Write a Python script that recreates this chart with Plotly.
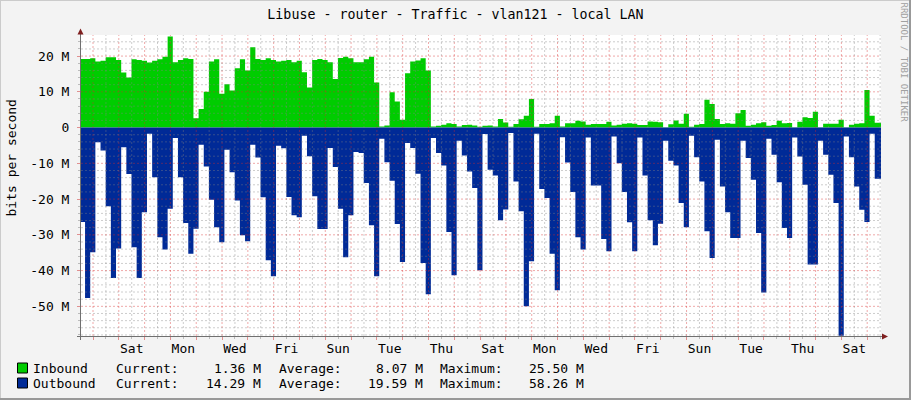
import plotly.graph_objects as go
from datetime import datetime, timedelta

# ---------------- data ----------------
TITLE = "Libuse - router - Traffic - vlan121 - local LAN"
Y_LABEL = "bits per second"
WATERMARK = "RRDTOOL / TOBI OETIKER"

GRAPH_START = datetime(2024, 2, 1, 12, 50)      # Thursday afternoon
GRAPH_DAYS = 31
STEP_ORIGIN = datetime(2024, 2, 1, 11, 48)      # start of first consolidated step
STEP_HOURS = 4.8

# traffic in Mbit/s, one value per 4.8 h step
inbound_mbps = [
    19.2, 19.2, 19.4, 18.5, 18.7, 19.7, 19.7, 18.9, 15.4, 14.0,
    19.1, 18.9, 18.7, 18.2, 18.7, 19.1, 19.8, 25.5, 18.3, 18.9,
    19.4, 19.2, 2.6, 5.2, 10.0, 18.5, 19.1, 9.5, 12.1, 10.4,
    16.6, 19.1, 16.0, 22.5, 19.2, 18.9, 19.4, 18.9, 18.5, 18.7,
    18.9, 18.3, 18.7, 15.5, 11.2, 18.9, 19.2, 18.9, 18.3, 13.6,
    19.5, 19.8, 19.4, 18.3, 18.3, 19.1, 19.8, 12.6, 0.3, 0.6,
    9.9, 7.3, 2.2, 15.2, 18.5, 18.8, 19.4, 16.0, 0.3, 0.5,
    0.8, 1.2, 1.0, 0.3, 0.7, 0.8, 0.6, 0.2, 0.5, 0.6,
    0.3, 2.4, 1.4, 0.2, 1.0, 2.3, 3.3, 8.0, 0.2, 1.0,
    1.0, 1.2, 3.3, 0.3, 1.2, 1.2, 1.9, 1.7, 0.8, 1.0,
    1.0, 1.0, 1.6, 0.6, 0.8, 1.1, 1.2, 1.1, 0.7, 0.7,
    1.7, 1.6, 1.5, 0.1, 0.9, 2.0, 1.1, 3.9, 0.2, 0.8,
    1.0, 7.8, 6.6, 2.4, 1.0, 1.2, 1.1, 4.0, 4.9, 0.5,
    0.8, 1.2, 1.5, 0.5, 0.7, 1.9, 1.2, 1.3, 0.1, 1.6,
    2.9, 2.7, 4.4, 0.1, 1.1, 1.1, 1.1, 2.2, 0.1, 0.8,
    1.1, 1.2, 10.5, 3.3, 1.36,
]
outbound_mbps = [
    26.4, 47.7, 34.9, 4.1, 6.4, 22.0, 42.1, 33.8, 5.5, 13.0,
    33.5, 42.1, 23.7, 1.7, 13.9, 30.7, 34.1, 22.7, 2.9, 13.9,
    26.7, 35.3, 28.3, 4.8, 10.9, 20.2, 27.9, 32.1, 6.2, 12.5,
    20.4, 30.1, 31.8, 4.8, 8.4, 19.5, 37.1, 41.6, 5.1, 5.8,
    19.4, 24.5, 25.1, 2.3, 8.0, 19.2, 28.4, 28.4, 5.7, 11.0,
    22.7, 36.3, 24.5, 6.8, 7.1, 15.5, 27.3, 41.6, 3.1, 9.7,
    14.9, 27.0, 37.6, 4.3, 5.7, 12.9, 37.9, 46.6, 2.9, 7.1,
    10.6, 29.2, 41.3, 3.7, 7.8, 12.3, 16.9, 39.9, 1.8, 11.8,
    13.4, 25.9, 22.9, 1.5, 15.1, 23.4, 50.0, 37.4, 1.7, 17.2,
    19.7, 35.3, 45.5, 2.7, 9.8, 18.0, 30.7, 34.1, 2.8, 16.2,
    16.2, 31.2, 34.6, 2.5, 10.0, 18.0, 26.5, 34.6, 2.8, 13.4,
    25.9, 32.9, 26.9, 3.7, 9.3, 10.6, 21.1, 27.9, 2.3, 8.3,
    15.1, 29.0, 36.5, 3.4, 16.5, 23.7, 30.9, 30.9, 3.7, 8.5,
    14.6, 29.5, 46.1, 3.1, 7.6, 15.3, 28.1, 30.9, 2.8, 8.1,
    16.0, 38.3, 38.3, 3.7, 7.6, 13.2, 21.1, 58.26, 2.5, 8.3,
    16.5, 23.0, 26.4, 1.7, 14.29,
]

day_labels = ["Sat", "Mon", "Wed", "Fri", "Sun", "Tue", "Thu", "Sat",
              "Mon", "Wed", "Fri", "Sun", "Tue", "Thu", "Sat"]
day_label_dates = ["2024-02-03", "2024-02-05", "2024-02-07", "2024-02-09",
                   "2024-02-11", "2024-02-13", "2024-02-15", "2024-02-17",
                   "2024-02-19", "2024-02-21", "2024-02-23", "2024-02-25",
                   "2024-02-27", "2024-02-29", "2024-03-02"]

y_tick_values = [20, 10, 0, -10, -20, -30, -40, -50]
y_tick_text = ["20 M", "10 M", "0", "-10 M", "-20 M", "-30 M", "-40 M", "-50 M"]
Y_MIN, Y_MAX = -58.3, 25.9

legend_names = ["Inbound", "Outbound"]
legend_current = ["1.36 M", "14.29 M"]
legend_average = ["8.07 M", "19.59 M"]
legend_maximum = ["25.50 M", "58.26 M"]

# ---------------- styles ----------------
GREEN = "#00CC00"
BLUE = "#002A97"
BACK = "#F3F3F3"
FONT = "DejaVu Sans Mono"
GRID_MINOR = "rgba(130,130,130,0.40)"
GRID_MAJOR = "rgba(215,40,40,0.40)"
AXIS_COLOR = "#707070"
ARROW_COLOR = "#7F1F1F"
W, H = 911, 400
PL, PR, PT, PB = 81, 881, 35, 336


def px_x(px):
    return (px - PL) / (PR - PL)


def px_y(py):
    return (PB - py) / (PB - PT)


GRAPH_END = GRAPH_START + timedelta(days=GRAPH_DAYS)
n = len(inbound_mbps)
times = [STEP_ORIGIN + timedelta(hours=STEP_HOURS * k) for k in range(n)] + [GRAPH_END]
y_in = inbound_mbps + [inbound_mbps[-1]]
y_out = [-v for v in outbound_mbps] + [-outbound_mbps[-1]]

fig = go.Figure()
fig.add_trace(go.Scatter(x=times, y=y_in, mode="lines", line=dict(width=0, shape="hv", color=GREEN),
                         fill="tozeroy", fillcolor=GREEN, name=legend_names[0], showlegend=False,
                         hoverinfo="skip"))
fig.add_trace(go.Scatter(x=times, y=y_out, mode="lines", line=dict(width=0, shape="hv", color=BLUE),
                         fill="tozeroy", fillcolor=BLUE, name=legend_names[1], showlegend=False,
                         hoverinfo="skip"))
# carrier trace for the label axis
fig.add_trace(go.Scatter(x=[GRAPH_START, GRAPH_END], y=[0, 0], xaxis="x2", mode="lines",
                         line=dict(width=0), opacity=0, showlegend=False, hoverinfo="skip"))

shapes = []
# grid drawn above data (as rrdtool does)
d = datetime(GRAPH_START.year, GRAPH_START.month, GRAPH_START.day)
while d <= GRAPH_END:
    for hrs, col in ((0, GRID_MAJOR), (12, GRID_MINOR)):
        t = d + timedelta(hours=hrs)
        if GRAPH_START < t < GRAPH_END:
            shapes.append(dict(type="line", xref="x", yref="paper", x0=t, x1=t, y0=0, y1=1,
                               layer="above", line=dict(color=col, width=1, dash="2px,2px")))
    d += timedelta(days=1)
for v in range(-58, 26, 2):
    if v == 0:
        continue
    col = GRID_MAJOR if v % 10 == 0 else GRID_MINOR
    shapes.append(dict(type="line", xref="paper", yref="y", x0=0, x1=1, y0=v, y1=v,
                       layer="above", line=dict(color=col, width=1, dash="2px,2px")))

# axis extensions and arrows
shapes.append(dict(type="line", xref="paper", yref="paper", x0=px_x(77), x1=px_x(883),
                   y0=px_y(336.5), y1=px_y(336.5), line=dict(color=AXIS_COLOR, width=1)))
shapes.append(dict(type="line", xref="paper", yref="paper", x0=px_x(80.5), x1=px_x(80.5),
                   y0=px_y(340), y1=px_y(33), line=dict(color=AXIS_COLOR, width=1)))
shapes.append(dict(type="path", xref="paper", yref="paper",
                   path=f"M {px_x(77.5)} {px_y(34.5)} L {px_x(83.5)} {px_y(34.5)} L {px_x(80.5)} {px_y(28.5)} Z",
                   fillcolor=ARROW_COLOR, line=dict(width=0)))
shapes.append(dict(type="path", xref="paper", yref="paper",
                   path=f"M {px_x(882)} {px_y(333.5)} L {px_x(882)} {px_y(339.5)} L {px_x(888)} {px_y(336.5)} Z",
                   fillcolor=ARROW_COLOR, line=dict(width=0)))
# outer 3D frame
shapes.append(dict(type="line", xref="paper", yref="paper", x0=px_x(0), x1=px_x(W),
                   y0=px_y(0.5), y1=px_y(0.5), line=dict(color="#CBCBCB", width=1)))
shapes.append(dict(type="line", xref="paper", yref="paper", x0=px_x(0.5), x1=px_x(0.5),
                   y0=px_y(0), y1=px_y(H), line=dict(color="#CBCBCB", width=1)))
shapes.append(dict(type="line", xref="paper", yref="paper", x0=px_x(0), x1=px_x(W),
                   y0=px_y(H - 1), y1=px_y(H - 1), line=dict(color="#999999", width=2)))
shapes.append(dict(type="line", xref="paper", yref="paper", x0=px_x(W - 1), x1=px_x(W - 1),
                   y0=px_y(0), y1=px_y(H), line=dict(color="#999999", width=2)))

# legend swatches
row_y = [368, 383]
for i, col in enumerate([GREEN, BLUE]):
    shapes.append(dict(type="rect", xref="paper", yref="paper",
                       x0=px_x(17.5), x1=px_x(27.5), y0=px_y(row_y[i] - 5), y1=px_y(row_y[i] + 5),
                       fillcolor=col, line=dict(color="#000000", width=1)))

annotations = []
font = dict(family=FONT, size=13, color="#000000")
for i in range(2):
    yy = px_y(row_y[i])
    cells = [
        (legend_names[i], 31, "left"),
        ("Current:", 114, "left"),
        (legend_current[i], 263, "right"),
        ("Average:", 277, "left"),
        (legend_average[i], 425, "right"),
        ("Maximum:", 438, "left"),
        (legend_maximum[i], 586, "right"),
    ]
    for text, xpx, anchor in cells:
        annotations.append(dict(text=text, x=px_x(xpx), y=yy, xref="paper", yref="paper",
                                xanchor=anchor, yanchor="middle", showarrow=False, font=font))
annotations.append(dict(text=Y_LABEL, x=px_x(11), y=px_y(158.5), xref="paper", yref="paper",
                        textangle=-90, showarrow=False, font=font, xanchor="center", yanchor="middle"))
annotations.append(dict(text=WATERMARK, x=px_x(903.5), y=px_y(62), xref="paper", yref="paper",
                        textangle=90, showarrow=False, font=dict(family=FONT, size=9, color="#A0A0A0"),
                        xanchor="center", yanchor="middle"))

label_ticks = [datetime.fromisoformat(s) + timedelta(hours=12) for s in day_label_dates]

fig.update_layout(
    width=W, height=H,
    paper_bgcolor=BACK, plot_bgcolor="#FFFFFF",
    margin=dict(l=PL, r=W - PR, t=PT, b=H - PB, autoexpand=False),
    title=dict(text=TITLE, x=0.5, xref="container", xanchor="center",
               y=1 - 14 / H, yref="container", yanchor="middle",
               font=dict(family=FONT, size=13.3, color="#000000")),
    showlegend=False,
    font=dict(family=FONT, size=13, color="#000000"),
    xaxis=dict(type="date", range=[GRAPH_START, GRAPH_END], showgrid=False, zeroline=False,
               showline=False, showticklabels=False,
               tick0="2024-02-02", dtick=86400000, ticks="outside", ticklen=3,
               tickcolor="#E09090", tickwidth=1,
               minor=dict(dtick=43200000, tick0="2024-02-02", ticks="outside", ticklen=2,
                          tickcolor="#BBBBBB", showgrid=False)),
    xaxis2=dict(type="date", overlaying="x", anchor="y", side="bottom",
                range=[GRAPH_START, GRAPH_END], showgrid=False, zeroline=False, showline=False,
                tickmode="array", tickvals=label_ticks, ticktext=day_labels, ticks="",
                ticklabelstandoff=3, tickfont=dict(family=FONT, size=13, color="#000000")),
    yaxis=dict(range=[Y_MIN, Y_MAX], showgrid=False, zeroline=False, showline=False,
               tickmode="array", tickvals=y_tick_values, ticktext=y_tick_text,
               ticks="outside", ticklen=3, tickcolor="#E09090", ticklabelstandoff=5,
               tickfont=dict(family=FONT, size=13, color="#000000"),
               minor=dict(dtick=2, tick0=0, ticks="outside", ticklen=2, tickcolor="#BBBBBB",
                          showgrid=False)),
    shapes=shapes,
    annotations=annotations,
)

fig.write_html("out.html", config={"displayModeBar": False, "staticPlot": True},
               post_script="document.body.style.margin='0px';document.body.style.overflow='hidden';")
